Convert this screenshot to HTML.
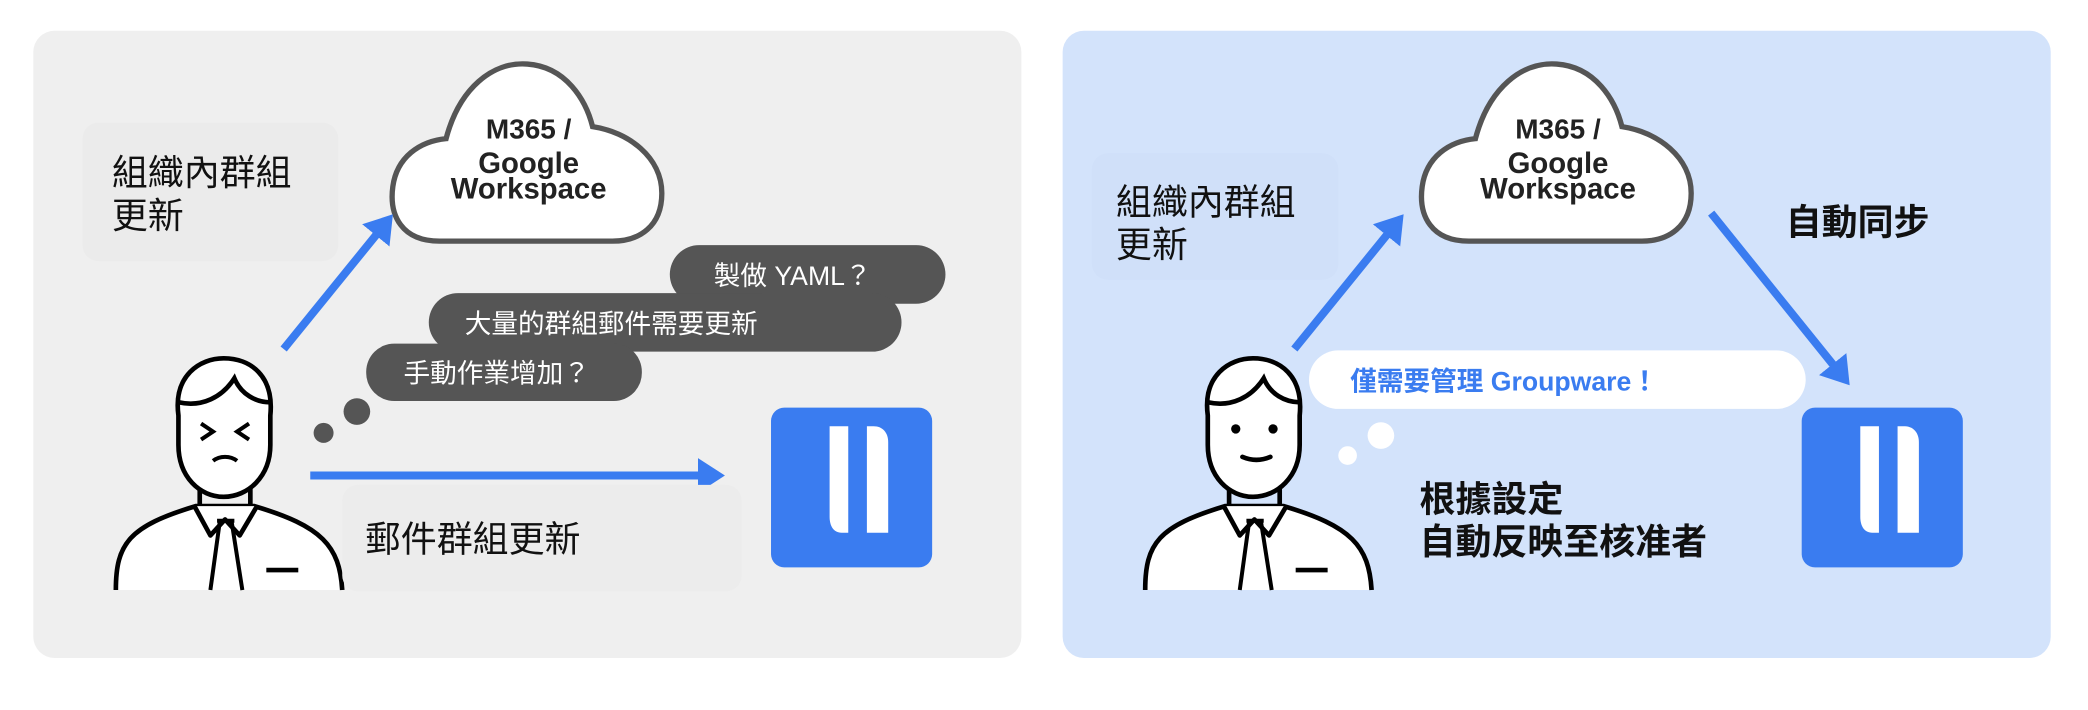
<!DOCTYPE html>
<html><head><meta charset="utf-8"><style>
html,body{margin:0;padding:0;background:#fff;}
svg{display:block;}
text{font-family:"Liberation Sans","Noto Sans CJK TC",sans-serif;}
</style></head><body>
<svg width="2088" height="710" viewBox="0 0 1568 533" xmlns="http://www.w3.org/2000/svg">
<defs>
<marker id="ah" markerWidth="4" markerHeight="4.4" refX="1" refY="2.2" orient="auto" markerUnits="strokeWidth">
<path d="M0,0 L3.4,2.2 L0,4.4 Z" fill="#3a7cf0"/>
</marker>
<g id="body">
<path d="M87,443 C87,408 97,395 147,380 L191,380 C242,395 255,410 257,443" fill="#fff" stroke="#000" stroke-width="3.5"/>
<path d="M150,362 L150,385 M188,362 L188,385" stroke="#000" stroke-width="3.5" fill="none"/>
<path d="M146,380 L158,402 L169,390 L180,402 L193,380" fill="#fff" stroke="#000" stroke-width="3.5" stroke-linejoin="round"/>
<path d="M165,392 L158,443 M174,392 L182,443 M163,391 L176,391" stroke="#000" stroke-width="3" fill="none"/>
<path d="M200,428 L224,428" stroke="#000" stroke-width="3.5"/>
<path d="M134,312 C130,282 150,269 168,269 C188,269 206,282 203,312 L203,334 C203,358 186,373 168,373 C150,373 134,358 134,334 Z" fill="#fff" stroke="#000" stroke-width="3.5"/>
<path d="M134,302 C152,306 167,298 176,284 C181,296 192,302 203,302" fill="none" stroke="#000" stroke-width="3.5"/>
</g>
<g id="cloud">
<path d="M330,181 C302,181 292,162 295,140 C298,118 315,106 335,104 C345,66 370,46 396,48 C425,50 440,75 445,95 C472,99 497,118 497,145 C497,170 480,181 460,181 Z" fill="#fff" stroke="#555" stroke-width="4"/>
<text x="397" y="104" text-anchor="middle" font-size="21" font-weight="bold" fill="#222">M365 /</text>
<text x="397" y="130" text-anchor="middle" font-size="22" font-weight="bold" fill="#222">Google</text>
<text x="397" y="149" text-anchor="middle" font-size="22" font-weight="bold" fill="#222">Workspace</text>
</g>
<g id="app">
<rect x="579" y="306" width="121" height="120" rx="10" fill="#3a7cf0"/>
<path d="M623,320 L637,320 L637,400 L632,400 C626,400 623,395 623,388 Z" fill="#fff"/>
<path d="M651,320 L656,320 C663,320 667,325 667,332 L667,400 L651,400 Z" fill="#fff"/>
</g>
</defs>

<rect x="25" y="23" width="742" height="471" rx="16" fill="#efefef"/>
<rect x="62" y="92" width="192" height="104" rx="12" fill="#ebebeb"/>
<text x="84" y="139" font-size="27" fill="#111">組織內群組</text>
<text x="84" y="171" font-size="27" fill="#111">更新</text>
<use href="#cloud"/>
<line x1="213" y1="262" x2="286" y2="172" stroke="#3a7cf0" stroke-width="6" marker-end="url(#ah)"/>
<rect x="503" y="184" width="207" height="44" rx="22" fill="#555"/>
<text x="536" y="214" font-size="20" fill="#fff">製做 YAML？</text>
<rect x="322" y="220" width="355" height="44" rx="22" fill="#555"/>
<text x="349" y="250" font-size="20" fill="#fff">大量的群組郵件需要更新</text>
<rect x="275" y="258" width="207" height="43" rx="21" fill="#555"/>
<text x="303" y="287" font-size="20" fill="#fff">手動作業增加？</text>
<circle cx="268" cy="309" r="10" fill="#555"/>
<circle cx="243" cy="325" r="7.5" fill="#555"/>
<use href="#body"/>
<path d="M151,318 L160,324 L151,330 M187,318 L178,324 L187,330" stroke="#000" stroke-width="3" fill="none"/>
<path d="M160,346 C165,342 173,342 178,346" stroke="#000" stroke-width="3" fill="none"/>
<line x1="233" y1="357" x2="530" y2="357" stroke="#3a7cf0" stroke-width="6" marker-end="url(#ah)"/>
<rect x="257" y="364" width="300" height="80" rx="12" fill="#ececec"/>
<text x="274" y="414" font-size="27" fill="#111">郵件群組更新</text>
<use href="#app"/>

<rect x="798" y="23" width="742" height="471" rx="16" fill="#d3e3fb"/>
<rect x="820" y="115" width="185" height="95" rx="12" fill="#d0e0f9"/>
<text x="838" y="161" font-size="27" fill="#111">組織內群組</text>
<text x="838" y="193" font-size="27" fill="#111">更新</text>
<use href="#cloud" transform="translate(773,0)"/>
<line x1="972" y1="262" x2="1045" y2="172" stroke="#3a7cf0" stroke-width="6" marker-end="url(#ah)"/>
<line x1="1285" y1="160" x2="1380" y2="278" stroke="#3a7cf0" stroke-width="6" marker-end="url(#ah)"/>
<text x="1341" y="176" font-size="27" font-weight="bold" fill="#111">自動同步</text>
<rect x="983" y="263" width="373" height="44" rx="22" fill="#fff"/>
<text x="1014" y="293" font-size="20" font-weight="bold" fill="#3a7cf0">僅需要管理 Groupware！</text>
<circle cx="1037" cy="327" r="10" fill="#fff"/>
<circle cx="1012" cy="342" r="7" fill="#fff"/>
<use href="#body" transform="translate(773,0)"/>
<circle cx="928" cy="322" r="3.5" fill="#000"/>
<circle cx="956" cy="322" r="3.5" fill="#000"/>
<path d="M933,343 C940,346 947,346 954,343" stroke="#000" stroke-width="3.5" fill="none" stroke-linecap="round"/>
<text x="1066" y="384" font-size="27" font-weight="bold" fill="#111">根據設定</text>
<text x="1066" y="416" font-size="27" font-weight="bold" fill="#111">自動反映至核准者</text>
<use href="#app" transform="translate(774,0)"/>
</svg>
</body></html>
